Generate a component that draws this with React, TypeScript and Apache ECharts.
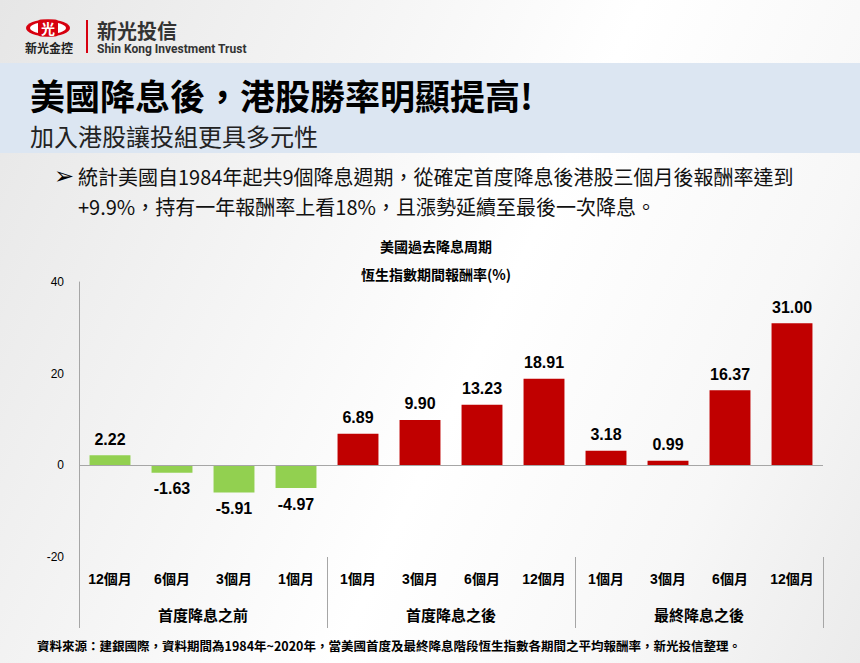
import React, { useEffect, useRef } from "react";
import * as echarts from "echarts";

const categories = ["12個月", "6個月", "3個月", "1個月", "1個月", "3個月", "6個月", "12個月", "1個月", "3個月", "6個月", "12個月"];
const returns = [2.22, -1.63, -5.91, -4.97, 6.89, 9.9, 13.23, 18.91, 3.18, 0.99, 16.37, 31.0];
const groupOfBar = [0, 0, 0, 0, 1, 1, 1, 1, 2, 2, 2, 2];
const groups = ["首度降息之前", "首度降息之後", "最終降息之後"];
const yTicks = { min: -20, max: 40, interval: 20 };

const title = "美國降息後，港股勝率明顯提高!";
const subtitle = "加入港股讓投組更具多元性";
const bullet1 = "統計美國自1984年起共9個降息週期，從確定首度降息後港股三個月後報酬率達到";
const bullet2 = "+9.9%，持有一年報酬率上看18%，且漲勢延續至最後一次降息。";
const chartTitle1 = "美國過去降息周期";
const chartTitle2 = "恆生指數期間報酬率(%)";
const footnote = "資料來源：建銀國際，資料期間為1984年~2020年，當美國首度及最終降息階段恆生指數各期間之平均報酬率，新光投信整理。";

const GREEN = "#92d050";
const RED = "#c00000";
const FONT = "Arial, 'Liberation Sans', 'Noto Sans CJK TC', sans-serif";
const CJK = "'Noto Sans CJK TC', 'Liberation Sans', sans-serif";

export default function App() {
  const ref = useRef<HTMLDivElement>(null);
  useEffect(() => {
    if (!ref.current) return;
    const chart = echarts.init(ref.current, null, { renderer: "svg" });
    const data = returns.map((v, i) => ({
      value: v,
      itemStyle: { color: groupOfBar[i] === 0 ? GREEN : RED },
      label: { position: v >= 0 ? "top" : "bottom" },
    }));
    chart.setOption({
      animation: false,
      backgroundColor: "transparent",
      grid: { left: 79, right: 37, top: 282, bottom: 106, containLabel: false },
      xAxis: [
        {
          type: "category",
          data: categories,
          position: "bottom",
          axisLine: { show: false, onZero: false },
          axisTick: { show: false },
          axisLabel: { fontSize: 14, fontWeight: "bold", color: "#000", margin: 15, fontFamily: FONT },
        },
        {
          type: "category",
          data: groups,
          position: "bottom",
          offset: 71,
          boundaryGap: true,
          axisLine: { show: false, onZero: false },
          axisTick: { show: true, inside: true, length: 71, lineStyle: { color: "#a6a6a6", width: 1 } },
          axisLabel: { inside: true, margin: 6, fontSize: 15, fontWeight: "bold", color: "#000", fontFamily: CJK },
        },
      ],
      yAxis: {
        type: "value",
        min: yTicks.min,
        max: yTicks.max,
        interval: yTicks.interval,
        axisLine: { show: true, lineStyle: { color: "#a6a6a6" } },
        axisTick: { show: false },
        splitLine: { show: false },
        axisLabel: { fontSize: 12, color: "#000", margin: 15, fontFamily: FONT },
      },
      series: [
        {
          type: "bar",
          data,
          barWidth: "66%",
          xAxisIndex: 0,
          label: {
            show: true,
            fontSize: 16,
            fontWeight: "bold",
            color: "#000",
            distance: 8,
            fontFamily: FONT,
            formatter: (p: any) => Number(p.value).toFixed(2),
          },
          markLine: {
            silent: true,
            symbol: "none",
            label: { show: false },
            lineStyle: { color: "#a6a6a6", type: "solid", width: 1 },
            data: [{ yAxis: 0 }],
          },
        },
      ],
      graphic: [
        { type: "rect", shape: { x: 0, y: 63, width: 860, height: 90 }, style: { fill: "#dce6f2" }, z: -10 },
        // logo
        { type: "ellipse", shape: { cx: 48, cy: 28, rx: 22, ry: 8.5 }, style: { fill: "#d7000f" } },
        { type: "ellipse", shape: { cx: 48, cy: 28, rx: 18, ry: 6 }, style: { fill: "#fff" } },
        { type: "rect", shape: { x: 38, y: 19.5, width: 20, height: 17, r: 3 }, style: { fill: "#d7000f" } },
        { type: "text", x: 48, y: 28, style: { text: "光", fill: "#fff", fontSize: 14, fontWeight: "bold", fontFamily: CJK, align: "center", verticalAlign: "middle" } },
        { type: "text", x: 25, y: 47, style: { text: "新光金控", fill: "#222", fontSize: 12, fontWeight: "bold", fontFamily: CJK, verticalAlign: "middle" } },
        { type: "line", shape: { x1: 87, y1: 20, x2: 87, y2: 53 }, style: { stroke: "#d7000f", lineWidth: 2 } },
        { type: "text", x: 97, y: 30, style: { text: "新光投信", fill: "#333", fontSize: 20, fontWeight: "bold", fontFamily: CJK, verticalAlign: "middle" } },
        { type: "text", x: 97, y: 49, style: { text: "Shin Kong Investment Trust", fill: "#333", fontSize: 12, fontWeight: "bold", fontFamily: "'Liberation Sans Narrow', 'Roboto', sans-serif", verticalAlign: "middle" } },
        // titles
        { type: "text", x: 30, y: 94, style: { text: title, fill: "#000", fontSize: 35, fontWeight: "bold", fontFamily: CJK, verticalAlign: "middle" } },
        { type: "text", x: 30, y: 135, style: { text: subtitle, fill: "#222", fontSize: 24, fontFamily: CJK, verticalAlign: "middle" } },
        { type: "text", x: 54, y: 176, style: { text: "➢", fill: "#000", fontSize: 24, fontFamily: "'DejaVu Sans', sans-serif", verticalAlign: "middle" } },
        { type: "text", x: 78, y: 176, style: { text: bullet1, fill: "#111", fontSize: 20, fontFamily: CJK, verticalAlign: "middle" } },
        { type: "text", x: 78, y: 206, style: { text: bullet2, fill: "#111", fontSize: 20, fontFamily: CJK, verticalAlign: "middle" } },
        { type: "text", x: 436, y: 246, style: { text: chartTitle1, fill: "#000", fontSize: 14, fontWeight: "bold", fontFamily: CJK, align: "center", verticalAlign: "middle" } },
        { type: "text", x: 436, y: 274, style: { text: chartTitle2, fill: "#000", fontSize: 14, fontWeight: "bold", fontFamily: CJK, align: "center", verticalAlign: "middle" } },
        { type: "text", x: 37, y: 645, style: { text: footnote, fill: "#000", fontSize: 12.5, fontWeight: "bold", fontFamily: CJK, verticalAlign: "middle" } },
      ],
    });
    return () => chart.dispose();
  }, []);
  return (
    <div
      style={{
        position: "fixed",
        left: 0,
        top: 0,
        width: 860,
        height: 663,
        background: "linear-gradient(115deg, #e6e6e6 0%, #f6f6f6 35%, #ffffff 55%, #f7f7f7 80%, #ebebeb 100%)",
      }}
    >
      <div ref={ref} style={{ width: 860, height: 663 }} />
    </div>
  );
}
